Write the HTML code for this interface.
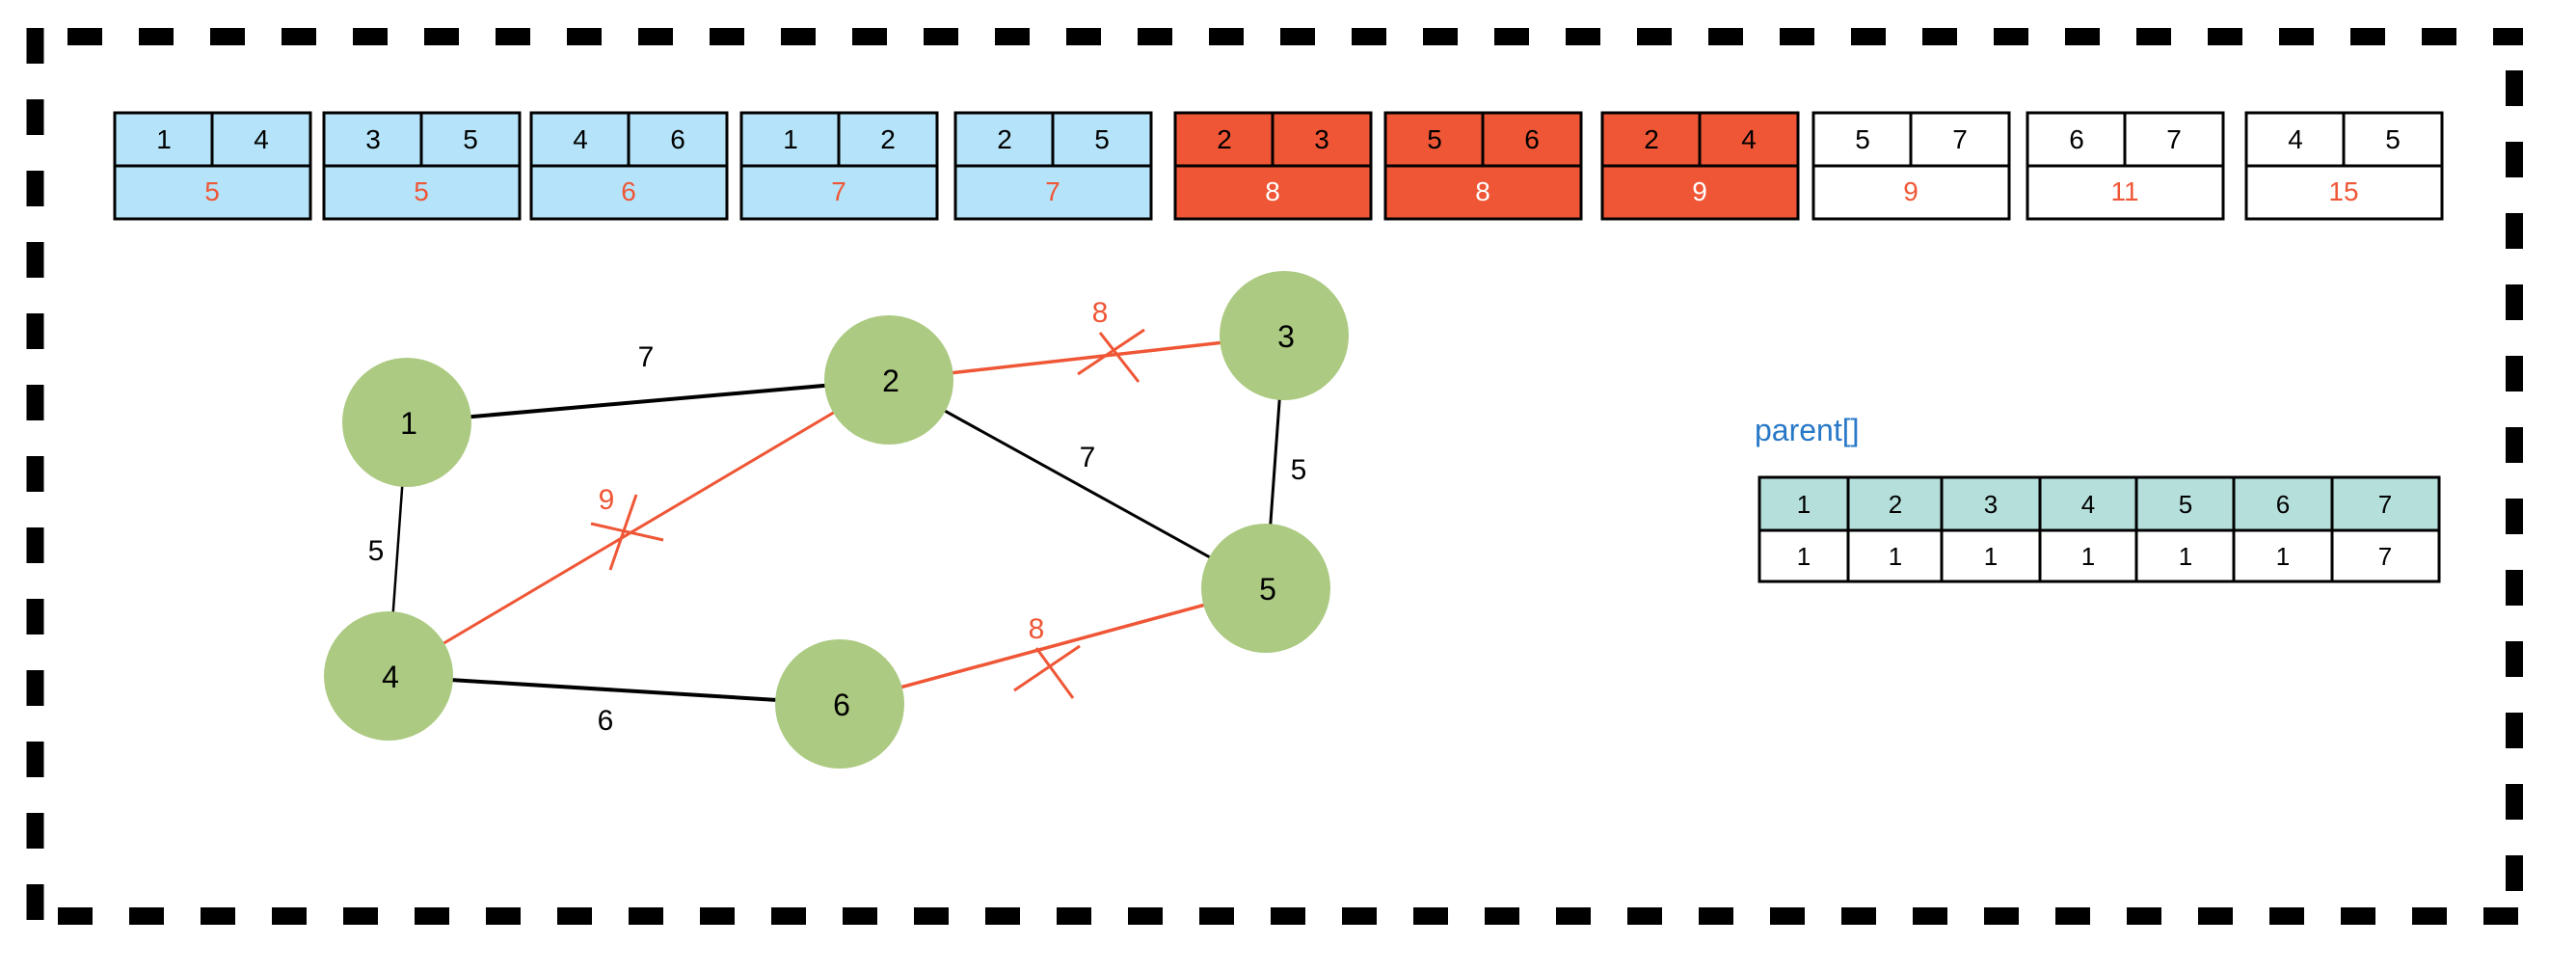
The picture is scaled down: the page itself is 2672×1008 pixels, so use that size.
<!DOCTYPE html>
<html><head><meta charset="utf-8"><style>
html,body{margin:0;padding:0;background:#fff;}
svg{display:block;}
text{font-family:"Liberation Sans","DejaVu Sans",sans-serif;}
</style></head><body>
<svg width="2672" height="1008" viewBox="0 0 2672 1008" xmlns="http://www.w3.org/2000/svg">
<!-- dashed border -->
<g stroke="#000" stroke-width="18">
<line x1="70" y1="38" x2="2617" y2="38" stroke-dasharray="36 38"/>
<line x1="36.5" y1="29" x2="36.5" y2="955" stroke-dasharray="37 37"/>
<line x1="60" y1="950" x2="2617" y2="950" stroke-dasharray="36 38"/>
<line x1="2608" y1="73" x2="2608" y2="940" stroke-dasharray="37 37"/>
</g>
<!-- edge boxes -->
<g stroke="#000" stroke-width="3" font-size="28" text-anchor="middle">
<g transform="translate(119,117)"><rect width="203" height="110" fill="#b5e3f9"/><line x1="0" y1="55" x2="203" y2="55"/><line x1="101" y1="0" x2="101" y2="55"/></g>
<g transform="translate(336,117)"><rect width="203" height="110" fill="#b5e3f9"/><line x1="0" y1="55" x2="203" y2="55"/><line x1="101" y1="0" x2="101" y2="55"/></g>
<g transform="translate(551,117)"><rect width="203" height="110" fill="#b5e3f9"/><line x1="0" y1="55" x2="203" y2="55"/><line x1="101" y1="0" x2="101" y2="55"/></g>
<g transform="translate(769,117)"><rect width="203" height="110" fill="#b5e3f9"/><line x1="0" y1="55" x2="203" y2="55"/><line x1="101" y1="0" x2="101" y2="55"/></g>
<g transform="translate(991,117)"><rect width="203" height="110" fill="#b5e3f9"/><line x1="0" y1="55" x2="203" y2="55"/><line x1="101" y1="0" x2="101" y2="55"/></g>
<g transform="translate(1219,117)"><rect width="203" height="110" fill="#ef5636"/><line x1="0" y1="55" x2="203" y2="55"/><line x1="101" y1="0" x2="101" y2="55"/></g>
<g transform="translate(1437,117)"><rect width="203" height="110" fill="#ef5636"/><line x1="0" y1="55" x2="203" y2="55"/><line x1="101" y1="0" x2="101" y2="55"/></g>
<g transform="translate(1662,117)"><rect width="203" height="110" fill="#ef5636"/><line x1="0" y1="55" x2="203" y2="55"/><line x1="101" y1="0" x2="101" y2="55"/></g>
<g transform="translate(1881,117)"><rect width="203" height="110" fill="#fff"/><line x1="0" y1="55" x2="203" y2="55"/><line x1="101" y1="0" x2="101" y2="55"/></g>
<g transform="translate(2103,117)"><rect width="203" height="110" fill="#fff"/><line x1="0" y1="55" x2="203" y2="55"/><line x1="101" y1="0" x2="101" y2="55"/></g>
<g transform="translate(2330,117)"><rect width="203" height="110" fill="#fff"/><line x1="0" y1="55" x2="203" y2="55"/><line x1="101" y1="0" x2="101" y2="55"/></g>
</g>
<g font-size="28" text-anchor="middle" fill="#000">
<text x="170" y="154">1</text><text x="271" y="154">4</text>
<text x="387" y="154">3</text><text x="488" y="154">5</text>
<text x="602" y="154">4</text><text x="703" y="154">6</text>
<text x="820" y="154">1</text><text x="921" y="154">2</text>
<text x="1042" y="154">2</text><text x="1143" y="154">5</text>
<text x="1270" y="154">2</text><text x="1371" y="154">3</text>
<text x="1488" y="154">5</text><text x="1589" y="154">6</text>
<text x="1713" y="154">2</text><text x="1814" y="154">4</text>
<text x="1932" y="154">5</text><text x="2033" y="154">7</text>
<text x="2154" y="154">6</text><text x="2255" y="154">7</text>
<text x="2381" y="154">4</text><text x="2482" y="154">5</text>
</g>
<g font-size="28" text-anchor="middle">
<text x="220" y="208" fill="#ef5636">5</text>
<text x="437" y="208" fill="#ef5636">5</text>
<text x="652" y="208" fill="#ef5636">6</text>
<text x="870" y="208" fill="#ef5636">7</text>
<text x="1092" y="208" fill="#ef5636">7</text>
<text x="1320" y="208" fill="#fff">8</text>
<text x="1538" y="208" fill="#fff">8</text>
<text x="1763" y="208" fill="#fff">9</text>
<text x="1982" y="208" fill="#ef5636">9</text>
<text x="2204" y="208" fill="#ef5636">11</text>
<text x="2431" y="208" fill="#ef5636">15</text>
</g>
<!-- edges -->
<g stroke-linecap="butt">
<line x1="422" y1="438" x2="922" y2="394" stroke="#000" stroke-width="4"/>
<line x1="403" y1="701" x2="871" y2="730" stroke="#000" stroke-width="4"/>
<line x1="922" y1="394" x2="1313" y2="610" stroke="#000" stroke-width="3"/>
<line x1="1332" y1="348" x2="1313" y2="610" stroke="#000" stroke-width="3"/>
<line x1="422" y1="438" x2="403" y2="701" stroke="#000" stroke-width="2.5"/>
<line x1="922" y1="394" x2="1332" y2="348" stroke="#ef5636" stroke-width="3.5"/>
<line x1="922" y1="394" x2="403" y2="701" stroke="#ef5636" stroke-width="3"/>
<line x1="871" y1="730" x2="1313" y2="610" stroke="#ef5636" stroke-width="3.5"/>
</g>
<g stroke="#ef5636" stroke-width="3">
<line x1="1118" y1="388" x2="1187" y2="342"/><line x1="1141" y1="345" x2="1181" y2="396"/>
<line x1="613" y1="543" x2="688" y2="560"/><line x1="660" y1="513" x2="633" y2="591"/>
<line x1="1052" y1="716" x2="1120" y2="670"/><line x1="1075" y1="672" x2="1113" y2="724"/>
</g>
<!-- nodes -->
<g fill="#acca82">
<circle cx="422" cy="438" r="67"/>
<circle cx="922" cy="394" r="67"/>
<circle cx="1332" cy="348" r="67"/>
<circle cx="403" cy="701" r="67"/>
<circle cx="871" cy="730" r="67"/>
<circle cx="1313" cy="610" r="67"/>
</g>
<g font-size="32" text-anchor="middle" fill="#000">
<text x="424" y="450">1</text>
<text x="924" y="406">2</text>
<text x="1334" y="360">3</text>
<text x="405" y="713">4</text>
<text x="873" y="742">6</text>
<text x="1315" y="622">5</text>
</g>
<g font-size="30" text-anchor="middle" fill="#000">
<text x="670" y="380">7</text>
<text x="1128" y="484">7</text>
<text x="1347" y="497">5</text>
<text x="390" y="581">5</text>
<text x="628" y="757">6</text>
</g>
<g font-size="30" text-anchor="middle" fill="#ef5636">
<text x="1141" y="334">8</text>
<text x="629" y="528">9</text>
<text x="1075" y="662">8</text>
</g>
<!-- parent table -->
<text x="1820" y="457" font-size="32" fill="#2878c8">parent[]</text>
<g stroke="#000" stroke-width="3">
<rect x="1825" y="495" width="705" height="55" fill="#b5dfdb"/>
<rect x="1825" y="550" width="705" height="53" fill="#fff"/>
<line x1="1917" y1="495" x2="1917" y2="603"/>
<line x1="2014" y1="495" x2="2014" y2="603"/>
<line x1="2116" y1="495" x2="2116" y2="603"/>
<line x1="2216" y1="495" x2="2216" y2="603"/>
<line x1="2317" y1="495" x2="2317" y2="603"/>
<line x1="2419" y1="495" x2="2419" y2="603"/>
</g>
<g font-size="26" text-anchor="middle" fill="#000">
<text x="1871" y="532">1</text><text x="1966" y="532">2</text><text x="2065" y="532">3</text><text x="2166" y="532">4</text><text x="2267" y="532">5</text><text x="2368" y="532">6</text><text x="2474" y="532">7</text>
<text x="1871" y="586">1</text><text x="1966" y="586">1</text><text x="2065" y="586">1</text><text x="2166" y="586">1</text><text x="2267" y="586">1</text><text x="2368" y="586">1</text><text x="2474" y="586">7</text>
</g>
</svg>
</body></html>
